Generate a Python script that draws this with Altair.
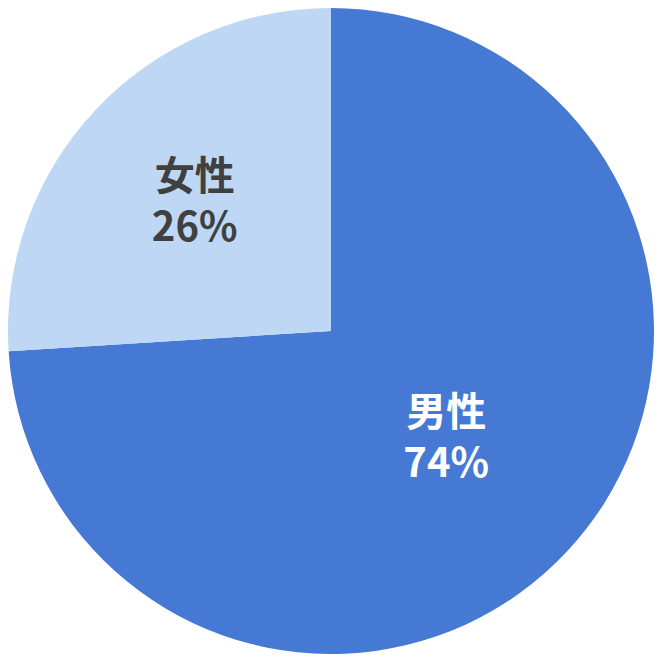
import altair as alt
import pandas as pd

categories = ["男性", "女性"]
values = [74, 26]
labels = ["男性\n74%", "女性\n26%"]
colors = ["#4679D3", "#BDD7F5"]
text_colors = ["#FFFFFF", "#404040"]
label_radius = [158, 187]

df = pd.DataFrame({
    "cat": categories,
    "val": values,
    "label": labels,
    "order": [0, 1],
    "r": label_radius,
    "tc": text_colors,
})

pie = alt.Chart(df).mark_arc(outerRadius=323).encode(
    theta=alt.Theta("val:Q", stack=True),
    order=alt.Order("order:Q"),
    color=alt.Color("cat:N", scale=alt.Scale(domain=categories, range=colors), legend=None),
)

text = alt.Chart(df).transform_window(
    cum="sum(val)", sort=[alt.SortField("order")]
).transform_calculate(
    mid="datum.cum - datum.val / 2"
).mark_text(
    font="Noto Sans CJK JP", fontSize=40, fontWeight="bold", lineBreak="\n", lineHeight=51,
    align="center", baseline="middle", dy=-25
).encode(
    theta=alt.Theta("mid:Q", scale=alt.Scale(domain=[0, 100], range=[0, 6.283185307179586])),
    radius=alt.Radius("r:Q", scale=None),
    text="label:N",
    color=alt.Color("tc:N", scale=None),
)

chart = alt.layer(pie, text).resolve_scale(theta="independent", color="independent").properties(
    width=646, height=646, padding=0, autosize=alt.AutoSizeParams(type="none")
).configure_view(stroke=None)

chart.save("out.html", embed_options={"renderer": "svg", "actions": False})
